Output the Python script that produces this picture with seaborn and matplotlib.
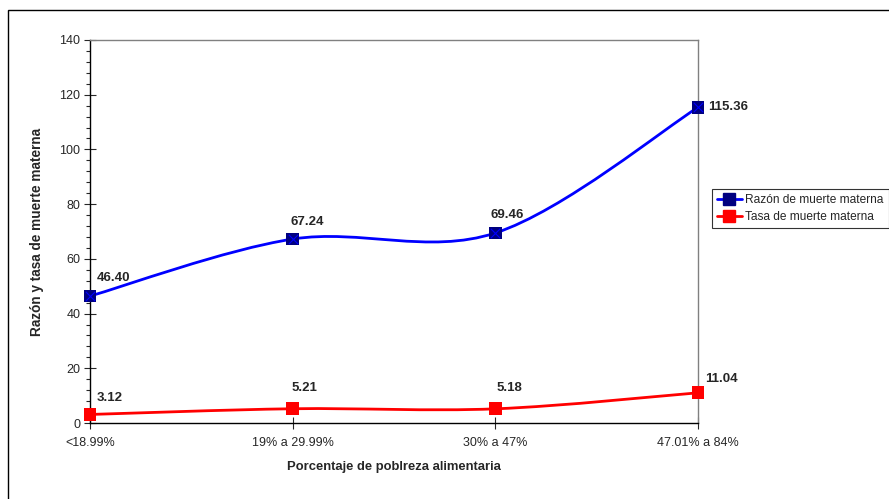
import matplotlib
matplotlib.use('Agg')
import matplotlib.pyplot as plt
from matplotlib.path import Path
from matplotlib.patches import PathPatch, Rectangle
from matplotlib.lines import Line2D
from matplotlib.ticker import MultipleLocator
import numpy as np
import pandas as pd
import seaborn as sns

# data
categorias = ['<18.99%', '19% a 29.99%', '30% a 47%', '47.01% a 84%']
razon = [46.40, 67.24, 69.46, 115.36]
tasa = [3.12, 5.21, 5.18, 11.04]

# label offsets in pixels (dx, dy) for each value label
off_razon = [(7, 12), (-2, 11), (-5, 12), (10, -6)]
off_tasa = [(7, 10), (-1, 15), (1, 15), (7, 8)]

sns.set_style('white')
plt.rcParams['font.family'] = ['Liberation Sans', 'DejaVu Sans']

fig = plt.figure(figsize=(8.89, 4.99), dpi=100)
ax = fig.add_axes([90/889, 1-423/499, (698-90)/889, (423-40)/499])

x = np.arange(len(categorias))
df = pd.DataFrame({
    'x': np.concatenate([x, x]),
    'valor': razon + tasa,
    'serie': ['Razón de muerte materna']*4 + ['Tasa de muerte materna']*4,
})


def smooth_path(xs, ys):
    # excel-like smoothed line: cubic bezier segments (catmull-rom control points)
    pts = np.column_stack([xs, ys]).astype(float)
    ext = np.vstack([pts[0], pts, pts[-1]])
    verts = [pts[0]]
    codes = [Path.MOVETO]
    for i in range(len(pts) - 1):
        p0, p1, p2, p3 = ext[i], ext[i+1], ext[i+2], ext[i+3]
        verts += [p1 + (p2 - p0)/6, p2 - (p3 - p1)/6, p2]
        codes += [Path.CURVE4]*3
    return Path(verts, codes)


ax.add_patch(PathPatch(smooth_path(x, razon), fill=False, edgecolor='#0000FF', lw=2, zorder=2))
ax.add_patch(PathPatch(smooth_path(x, tasa), fill=False, edgecolor='#FF0000', lw=2, zorder=2))

sns.scatterplot(data=df, x='x', y='valor', hue='serie',
                palette=['#000080', '#FF0000'], marker='s', s=85,
                edgecolor='none', legend=False, ax=ax, zorder=3, clip_on=False)
ax.scatter(x, razon, marker='x', s=45, color='#0000FF', linewidths=0.8, zorder=4, clip_on=False)

for xi, v, (dx, dy) in zip(x, razon, off_razon):
    ax.annotate(f'{v:.2f}', (xi, v), xytext=(dx, dy), textcoords='offset pixels',
                ha='left', va='bottom', fontsize=9.5, fontweight='bold')
for xi, v, (dx, dy) in zip(x, tasa, off_tasa):
    ax.annotate(f'{v:.2f}', (xi, v), xytext=(dx, dy), textcoords='offset pixels',
                ha='left', va='bottom', fontsize=9.5, fontweight='bold')

ax.set_xlim(0, 3)
ax.set_ylim(0, 140)
ax.set_xticks(x)
ax.set_xticklabels(categorias, fontsize=9)
ax.yaxis.set_major_locator(MultipleLocator(20))
ax.yaxis.set_minor_locator(MultipleLocator(4))
ax.tick_params(axis='y', which='major', direction='inout', length=8, width=0.8, labelsize=9, pad=3, left=True)
ax.tick_params(axis='y', which='minor', direction='out', length=3, width=0.8, left=True)
ax.tick_params(axis='x', which='major', direction='inout', length=8, width=0.8, pad=6, bottom=True)

ax.set_xlabel('Porcentaje de poblreza alimentaria', fontsize=9.4, fontweight='bold', labelpad=9)
ax.set_ylabel('Razón y tasa de muerte materna', fontsize=9.8, fontweight='bold', labelpad=11)

for s in ['left', 'bottom']:
    ax.spines[s].set_color('black')
    ax.spines[s].set_linewidth(1)
for s in ['top', 'right']:
    ax.spines[s].set_color('#808080')
    ax.spines[s].set_linewidth(1)

handles = [
    Line2D([], [], color='#0000FF', lw=2, marker='s', markersize=8,
           markerfacecolor='#000080', markeredgecolor='#000080'),
    Line2D([], [], color='#FF0000', lw=2, marker='s', markersize=8,
           markerfacecolor='#FF0000', markeredgecolor='#FF0000'),
]
leg = fig.legend(handles, ['Razón de muerte materna', 'Tasa de muerte materna'],
                 loc='upper left', bbox_to_anchor=(712/889, 1-189/499),
                 fontsize=8.6, frameon=True, fancybox=False, edgecolor='black',
                 handlelength=2.1, handletextpad=0.3, borderpad=0.4,
                 labelspacing=0.45, borderaxespad=0)
leg.get_frame().set_linewidth(0.8)

# outer chart border
fig.patches.append(Rectangle((8/889, -0.1), 1.2, 1-10/499+0.1, transform=fig.transFigure,
                             fill=False, edgecolor='black', lw=1))

fig.savefig('out.png', dpi=100)
